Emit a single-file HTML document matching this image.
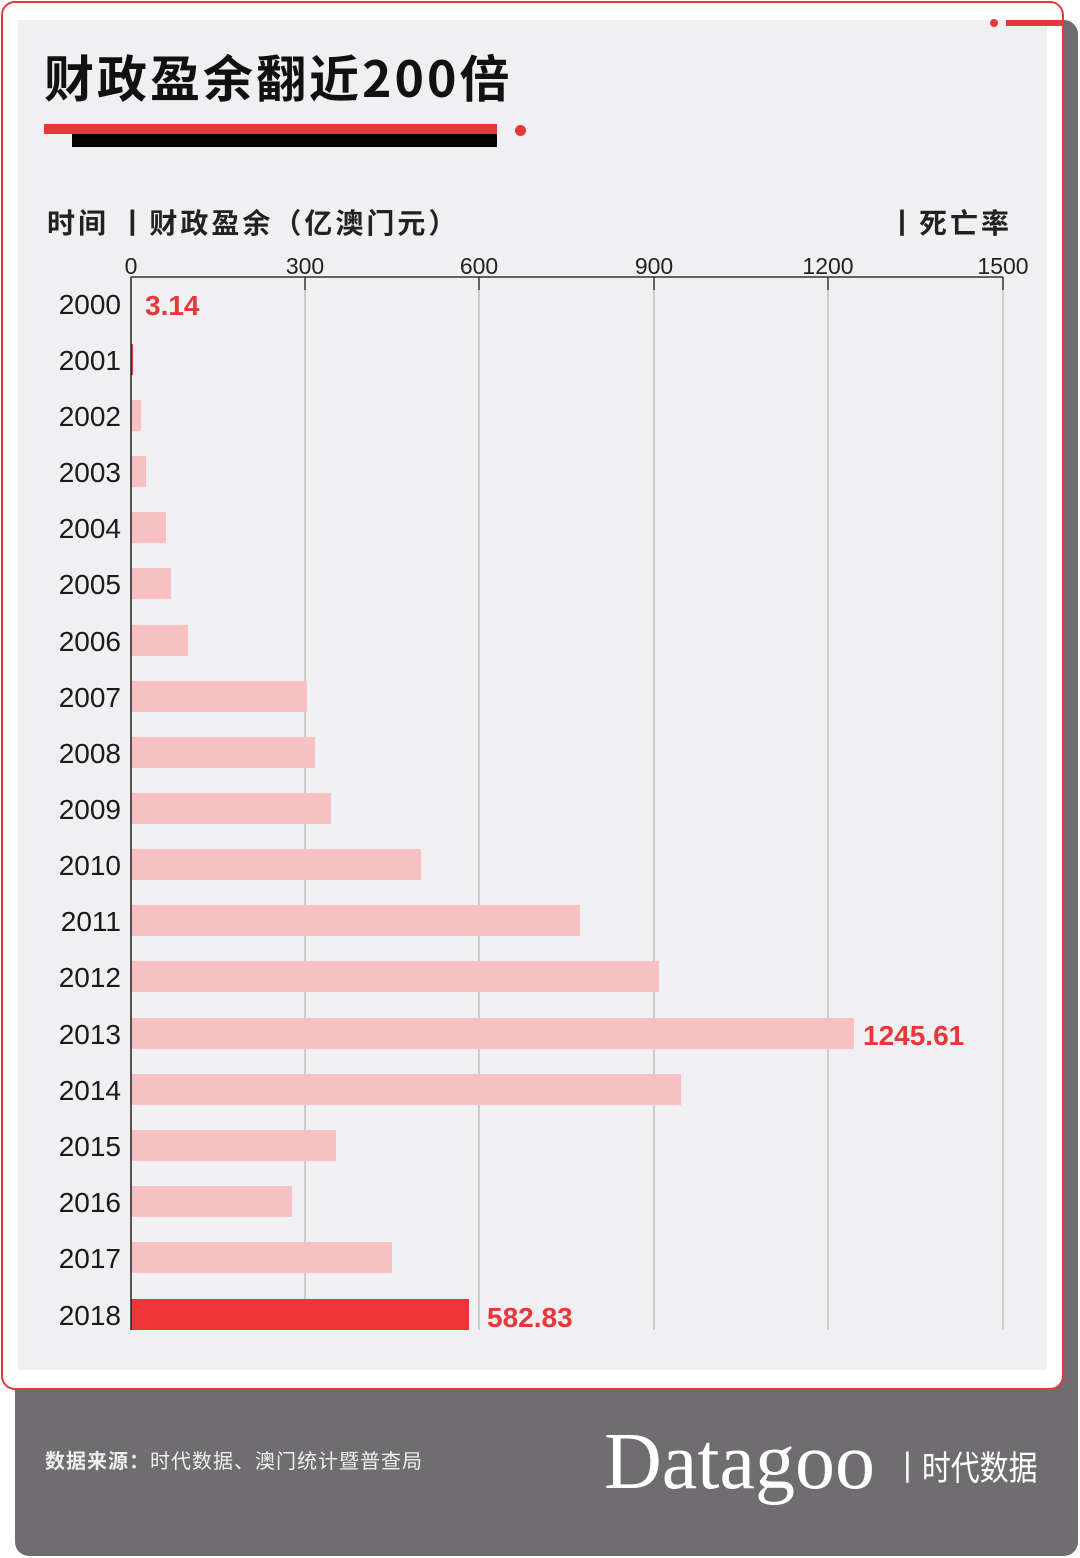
<!DOCTYPE html>
<html><head><meta charset="utf-8"><style>
body{margin:0;width:1080px;height:1558px;background:#fff;position:relative;overflow:hidden;font-family:"Liberation Sans","Noto Sans CJK SC",sans-serif;}
.abs{position:absolute}
</style></head><body>
<div class="abs" style="left:15px;top:20px;width:1063px;height:1536px;background:#6f6d70;border-radius:14px"></div>
<div class="abs" style="left:1px;top:1px;width:1059px;height:1385px;background:#fff;border:2px solid #e8373b;border-radius:14px"></div>
<div class="abs" style="left:18px;top:20px;width:1029px;height:1350px;background:#f0f0f2"></div>
<div class="abs" style="left:990px;top:19px;width:8px;height:8px;border-radius:50%;background:#e8373b"></div>
<div class="abs" style="left:1006px;top:20px;width:56px;height:6px;background:#e8373b"></div>
<div class="abs" style="left:44px;top:40px;font-size:50px;font-weight:bold;color:#111;letter-spacing:3px;font-family:'Noto Sans CJK SC',sans-serif;white-space:nowrap">财政盈余翻近200倍</div>
<div class="abs" style="left:44px;top:124px;width:453px;height:10px;background:#e8373b"></div>
<div class="abs" style="left:72px;top:134px;width:425px;height:13px;background:#000"></div>
<div class="abs" style="left:515px;top:125px;width:11px;height:11px;border-radius:50%;background:#e8373b"></div>
<div class="abs" style="left:47px;top:202px;font-size:28px;font-weight:bold;color:#222;letter-spacing:3px;font-family:'Noto Sans CJK SC',sans-serif;white-space:nowrap">时间 丨财政盈余（亿澳门元）</div>
<div class="abs" style="left:888px;top:202px;font-size:28px;font-weight:bold;color:#222;letter-spacing:3px;font-family:'Noto Sans CJK SC',sans-serif;white-space:nowrap">丨死亡率</div>
<svg class="abs" style="left:0;top:0" width="1080" height="1400">
<g font-family="Liberation Sans,sans-serif" font-size="23" fill="#222" text-anchor="middle">
<text x="131" y="274">0</text><text x="305" y="274">300</text><text x="479" y="274">600</text><text x="654" y="274">900</text><text x="828" y="274">1200</text><text x="1003" y="274">1500</text>
</g>
<g stroke="#aaa" stroke-width="1"><line x1="305" y1="277" x2="305" y2="1330"/><line x1="479" y1="277" x2="479" y2="1330"/><line x1="654" y1="277" x2="654" y2="1330"/><line x1="828" y1="277" x2="828" y2="1330"/><line x1="1003" y1="277" x2="1003" y2="1330"/></g>
<g stroke="#333" stroke-width="1.5"><line x1="131" y1="277" x2="1003" y2="277"/><line x1="305" y1="277" x2="305" y2="290"/><line x1="479" y1="277" x2="479" y2="290"/><line x1="654" y1="277" x2="654" y2="290"/><line x1="828" y1="277" x2="828" y2="290"/><line x1="1003" y1="277" x2="1003" y2="290"/></g>
<g fill="#f7c1c4">
<rect x="131" y="344" width="2" height="31" fill="#e8373b"/>
<rect x="131" y="400" width="10" height="31"/>
<rect x="131" y="456" width="15" height="31"/>
<rect x="131" y="512" width="35" height="31"/>
<rect x="131" y="568" width="40" height="31"/>
<rect x="131" y="625" width="57" height="31"/>
<rect x="131" y="681" width="176" height="31"/>
<rect x="131" y="737" width="184" height="31"/>
<rect x="131" y="793" width="200" height="31"/>
<rect x="131" y="849" width="290" height="31"/>
<rect x="131" y="905" width="449" height="31"/>
<rect x="131" y="961" width="528" height="31"/>
<rect x="131" y="1018" width="723" height="31"/>
<rect x="131" y="1074" width="550" height="31"/>
<rect x="131" y="1130" width="205" height="31"/>
<rect x="131" y="1186" width="161" height="31"/>
<rect x="131" y="1242" width="261" height="31"/>
<rect x="131" y="1299" width="338" height="31" fill="#ee3438"/>
</g>
<line x1="131" y1="277" x2="131" y2="1330" stroke="#222" stroke-width="1.5"/>
<g font-family="Liberation Sans,sans-serif" font-size="28" fill="#1a1a1a" text-anchor="end">
<text x="121" y="314">2000</text><text x="121" y="370">2001</text><text x="121" y="426">2002</text><text x="121" y="482">2003</text><text x="121" y="538">2004</text><text x="121" y="594">2005</text><text x="121" y="651">2006</text><text x="121" y="707">2007</text><text x="121" y="763">2008</text><text x="121" y="819">2009</text><text x="121" y="875">2010</text><text x="121" y="931">2011</text><text x="121" y="987">2012</text><text x="121" y="1044">2013</text><text x="121" y="1100">2014</text><text x="121" y="1156">2015</text><text x="121" y="1212">2016</text><text x="121" y="1268">2017</text><text x="121" y="1325">2018</text>
</g>
<g font-family="Liberation Sans,sans-serif" font-size="28" font-weight="bold" fill="#e8373b">
<text x="145" y="315">3.14</text><text x="863" y="1045">1245.61</text><text x="487" y="1327">582.83</text>
</g>
</svg>
<div class="abs" style="left:45px;top:1445px;font-size:20px;letter-spacing:1px;color:#eee;font-family:'Noto Sans CJK SC',sans-serif;white-space:nowrap"><b>数据来源：</b>时代数据、澳门统计暨普查局</div>
<div class="abs" style="left:604px;top:1414px;font-size:80px;color:#fff;font-family:'Liberation Serif',serif;white-space:nowrap;line-height:96px">Datagoo</div>
<div class="abs" style="left:893px;top:1441px;font-size:34px;color:#fff;font-family:'Noto Sans CJK SC',sans-serif;white-space:nowrap;transform:scaleX(0.85);transform-origin:left top">丨时代数据</div>
</body></html>
